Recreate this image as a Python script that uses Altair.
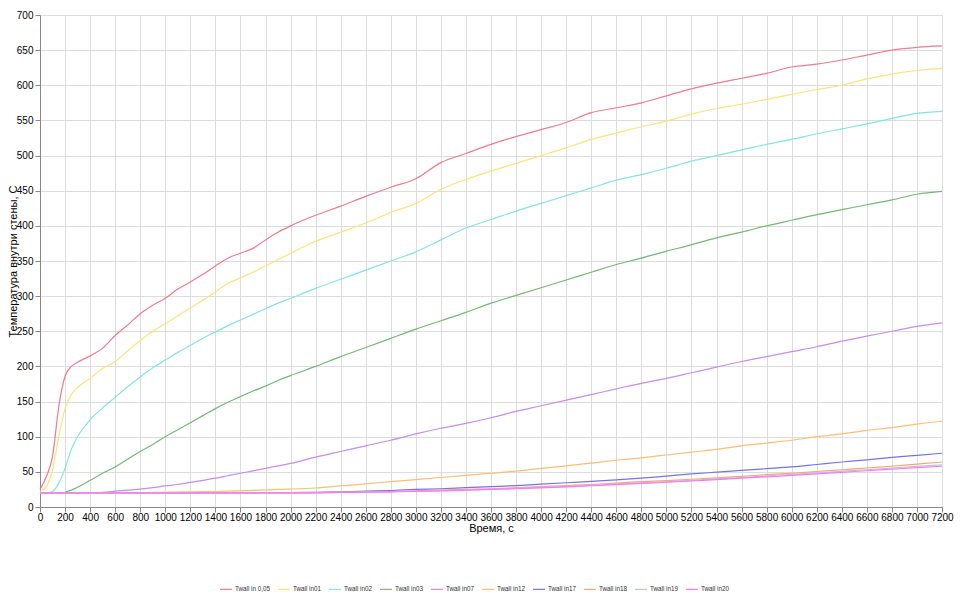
import altair as alt
import pandas as pd

# time grid, s
T = [0, 50, 100, 150, 200, 250, 300,
     400, 500, 600, 700, 800, 900, 1000, 1100, 1200, 1300, 1400, 1500, 1600, 1700, 1800, 1900, 2000,
     2200, 2400, 2600, 2800, 3000, 3200, 3400, 3600, 3800, 4000, 4200, 4400, 4600, 4800, 5000,
     5200, 5400, 5600, 5800, 6000, 6200, 6400, 6600, 6800, 7000, 7200]

series_names = ["Twall in 0,05", "Twall in01", "Twall in02", "Twall in03", "Twall in07",
                "Twall in12", "Twall in17", "Twall in18", "Twall in19", "Twall in20"]
series_colors = ["#EE7B8E", "#FFE27A", "#84E3E6", "#74B874", "#C98CEA",
                 "#FFBE74", "#7474E6", "#F4A676", "#BCC6CE", "#FF74FF"]

in005 = [25, 43, 72, 143, 186, 200, 206,
         215, 226, 244, 259, 275, 287, 297, 310, 320, 331, 343, 354, 361, 368, 380, 391, 400,
         415, 428, 442, 455, 467, 490, 503, 516, 527, 537, 547, 561, 568, 575, 585,
         595, 603, 610, 617, 626, 630, 636, 643, 650, 654, 656]
in01 = [22, 29, 53, 100, 140, 160, 170,
        183, 197, 207, 222, 237, 250, 261, 272, 283, 294, 306, 318, 326, 334, 343, 352, 361,
        378, 391, 404, 419, 432, 452, 466, 478, 489, 500, 511, 523, 532, 541, 549,
        559, 567, 573, 580, 587, 594, 600, 609, 616, 621, 624]
in02 = [20, 20, 22, 34, 55, 82, 100,
        124, 141, 156, 171, 185, 198, 209, 220, 230, 240, 249, 258, 266, 274, 282, 290, 297,
        311, 324, 337, 350, 363, 380, 397, 409, 421, 432, 443, 454, 465, 473, 482,
        492, 500, 508, 516, 523, 531, 538, 545, 553, 560, 563]
in03 = [20, 20, 20, 20, 21, 24, 28,
        38, 48, 57, 68, 79, 89, 100, 110, 120, 130, 140, 149, 157, 165, 172, 180, 187,
        200, 214, 227, 240, 253, 265, 277, 290, 301, 312, 323, 334, 345, 354, 364,
        373, 383, 391, 400, 408, 416, 423, 430, 437, 445, 449]
in07 = [20, 20, 20, 20, 20, 20, 20,
        20.5, 21, 22.5, 24, 25.5, 27.5, 30, 32, 35, 38, 41, 44.5, 48, 51.5, 55, 58.5, 62,
        71, 79, 87, 95, 104, 112, 119, 127, 136, 144, 152, 160, 168, 176, 183,
        191, 199, 207, 214, 221, 228, 236, 243, 250, 257, 262]
in12 = [20, 20, 20, 20, 20, 20, 20,
        20, 20, 20, 20.2, 20.5, 20.7, 21, 21.2, 21.5, 21.8, 22, 22.5, 23, 23.7, 24.5, 25, 25.5,
        27, 30, 33, 36, 39, 42, 45, 48, 51, 55, 58.5, 62.5, 66.5, 70, 74,
        78, 82, 87, 91, 95, 100, 104, 109, 113, 118, 122]
in17 = [20, 20, 20, 20, 20, 20, 20,
        20, 20, 20, 20, 20, 20, 20, 20, 20, 20, 20, 20, 20.1, 20.2, 20.3, 20.4, 20.5,
        21, 21.5, 22.5, 23.5, 25, 26, 27.5, 29, 30.5, 32.5, 34.5, 36.5, 38.5, 41, 44,
        47, 49.5, 52, 54.5, 57, 60.5, 64, 67, 70.5, 73.5, 76.5]
in18 = [20, 20, 20, 20, 20, 20, 20,
        20, 20, 20, 20, 20, 20, 20, 20, 20, 20, 20, 20, 20, 20, 20, 20, 20,
        20.5, 21, 21.5, 22, 23, 24, 25, 26, 27.5, 29, 30.5, 32, 34, 36, 37.5,
        39.5, 41.5, 43.5, 46, 48, 50.5, 53, 55.5, 58, 61, 64]
in19 = [20, 20, 20, 20, 20, 20, 20,
        20, 20, 20, 20, 20, 20, 20, 20, 20, 20, 20, 20, 20, 20, 20, 20, 20,
        20.3, 20.7, 21.2, 21.7, 22.5, 23.3, 24.3, 25.3, 26.5, 27.8, 29.2, 30.8, 32.5, 34.3, 36,
        38, 40, 42, 44.2, 46.5, 48.5, 51, 53, 55.5, 57.8, 60]
in20 = [20, 20, 20, 20, 20, 20, 20,
        20, 20, 20, 20, 20, 20, 20, 20, 20, 20, 20, 20, 20, 20, 20, 20, 20,
        20.2, 20.6, 21, 21.5, 22.2, 23, 24, 25, 26, 27.3, 28.7, 30.2, 31.8, 33.5, 35.2,
        37, 39, 41, 43, 45, 47.2, 49.4, 51.6, 53.8, 56, 58]

x_ticks = list(range(0, 7201, 200))
y_ticks = list(range(0, 701, 50))

all_series = [in005, in01, in02, in03, in07, in12, in17, in18, in19, in20]
rows = []
for name, vals in zip(series_names, all_series):
    for t, v in zip(T, vals):
        rows.append({"t": t, "v": v, "s": name})
df = pd.DataFrame(rows)

FONT = "Liberation Sans"

chart = alt.Chart(df).mark_line(strokeWidth=1.2, interpolate="monotone").encode(
    x=alt.X("t:Q",
            scale=alt.Scale(domain=[0, 7200], nice=False, zero=False),
            axis=alt.Axis(title="Время, с", values=x_ticks, format="d", labelFlush=False,
                          labelOverlap=False, labelPadding=0, titleX=451, titleY=21,
                          titleBaseline="middle", titleFontWeight="normal")),
    y=alt.Y("v:Q",
            scale=alt.Scale(domain=[0, 700], nice=False),
            axis=alt.Axis(title="Температура внутри стены, С", values=y_ticks, format="d",
                          titleX=-27, titleY=246, titleAngle=-90,
                          titleBaseline="middle", titleAlign="center",
                          titleFontWeight="normal")),
    color=alt.Color("s:N",
                    scale=alt.Scale(domain=series_names, range=series_colors),
                    sort=series_names,
                    legend=alt.Legend(title=None, orient="none", legendX=179, legendY=567,
                                      direction="horizontal", columns=10,
                                      symbolType="stroke", symbolSize=144,
                                      symbolStrokeWidth=1.2, labelFontSize=6.3,
                                      labelFont=FONT, labelColor="#333",
                                      columnPadding=4, labelOffset=2)),
    order=alt.Order("s:N"),
).properties(
    width=902, height=492,
    autosize=alt.AutoSizeParams(type="none"),
    padding={"left": 32, "top": 7, "right": 24, "bottom": 87},
).configure_axis(
    gridColor="#DDDDDD", gridDash=[2, 2], gridWidth=1,
    domainColor="#666666", tickColor="#666666", tickSize=3,
    labelFont=FONT, labelFontSize=7, labelColor="#444444", labelPadding=1,
    titleFont=FONT, titleFontSize=7, titleColor="#333333", titleFontWeight="normal",
).configure_view(stroke="#DDDDDD").configure(background="white")

chart.save("out.html", embed_options={"renderer": "svg", "actions": False})
